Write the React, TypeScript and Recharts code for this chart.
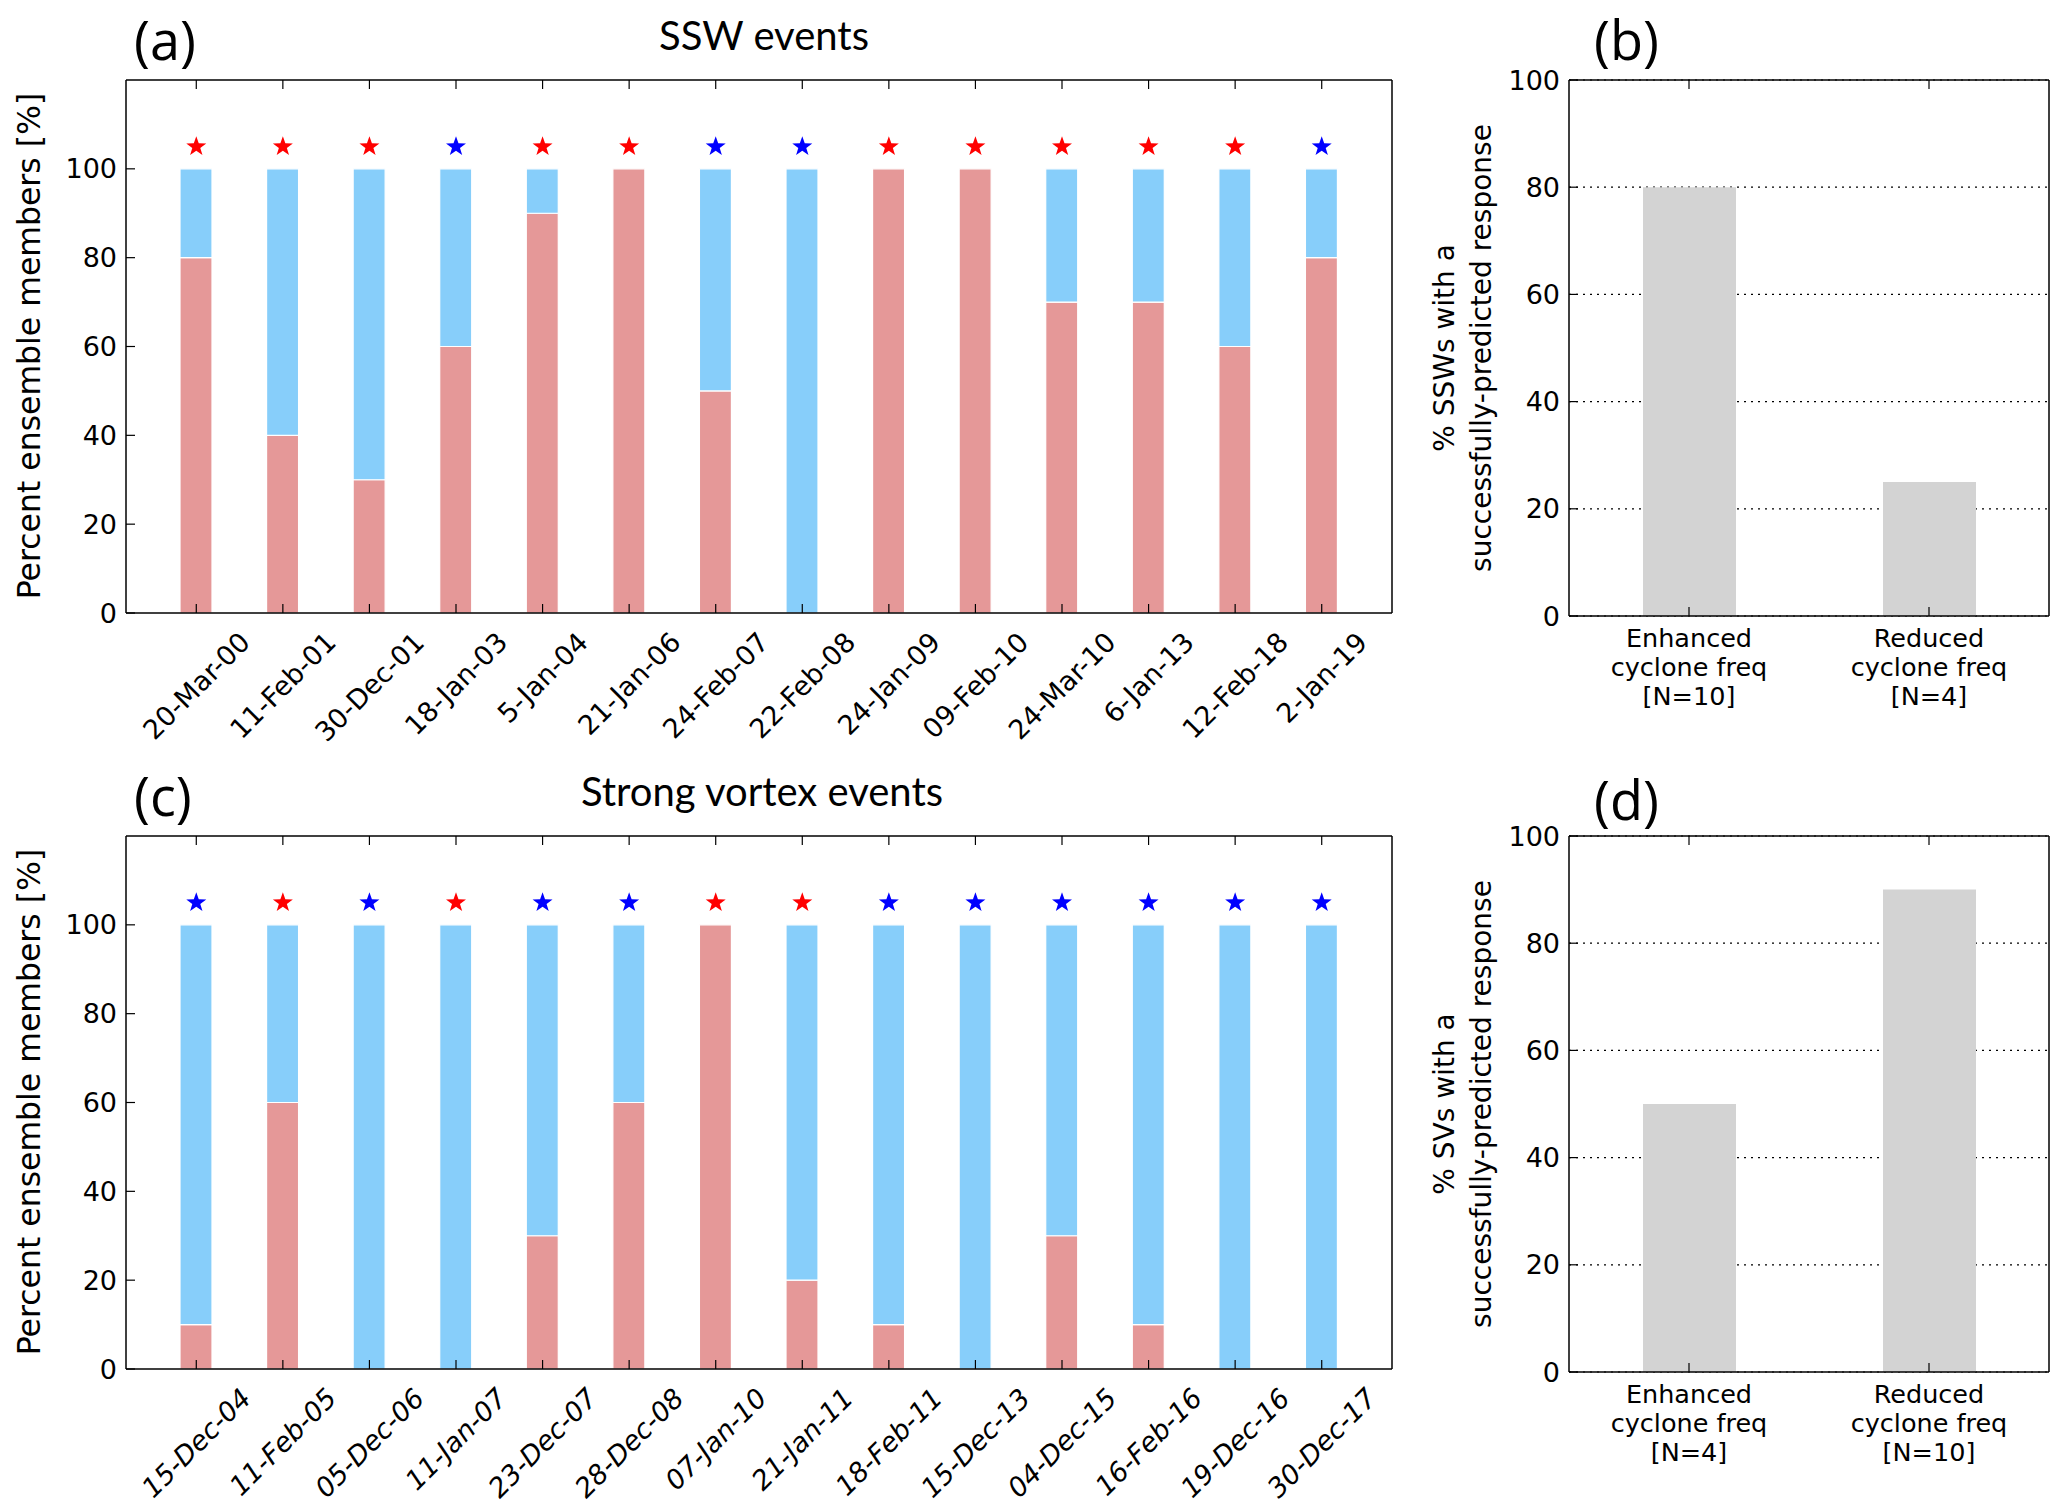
import React from "react";
import { ComposedChart, Bar, Line, XAxis, YAxis, CartesianGrid } from "recharts";

// SSW events (panel a)
const sswDates = [
  "20-Mar-00", "11-Feb-01", "30-Dec-01", "18-Jan-03", "5-Jan-04", "21-Jan-06", "24-Feb-07",
  "22-Feb-08", "24-Jan-09", "09-Feb-10", "24-Mar-10", "6-Jan-13", "12-Feb-18", "2-Jan-19",
];
const sswRed = [80, 40, 30, 60, 90, 100, 50, 0, 100, 100, 70, 70, 60, 80];
const sswBlue = [20, 60, 70, 40, 10, 0, 50, 100, 0, 0, 30, 30, 40, 20];
const sswStars = ["r", "r", "r", "b", "r", "r", "b", "b", "r", "r", "r", "r", "r", "b"];

// Strong vortex events (panel c)
const svDates = [
  "15-Dec-04", "11-Feb-05", "05-Dec-06", "11-Jan-07", "23-Dec-07", "28-Dec-08", "07-Jan-10",
  "21-Jan-11", "18-Feb-11", "15-Dec-13", "04-Dec-15", "16-Feb-16", "19-Dec-16", "30-Dec-17",
];
const svRed = [10, 60, 0, 0, 30, 60, 100, 20, 10, 0, 30, 10, 0, 0];
const svBlue = [90, 40, 100, 100, 70, 40, 0, 80, 90, 100, 70, 90, 100, 100];
const svStars = ["b", "r", "b", "r", "b", "b", "r", "r", "b", "b", "b", "b", "b", "b"];

// success panels (b, d)
const sswGroups = ["Enhanced|cyclone freq|[N=10]", "Reduced|cyclone freq|[N=4]"];
const sswSuccess = [80, 25];
const svGroups = ["Enhanced|cyclone freq|[N=4]", "Reduced|cyclone freq|[N=10]"];
const svSuccess = [50, 90];

const STAR_LEVEL = 105;
const pctTicks = [0, 20, 40, 60, 80, 100];

const FONT = "'DejaVu Sans', 'Noto Sans', sans-serif";
const TITLE_FONT = "Lato, 'Open Sans', sans-serif";
const LETTER_FONT = "'Open Sans', Lato, sans-serif";
const RED = "#E59898";
const BLUE = "#87CEFA";
const GRAY = "#D3D3D3";
const STAR_COLORS: Record<string, string> = { r: "#FF0000", b: "#0000FF" };

let ctx: CanvasRenderingContext2D | null = null;
function textWidth(text: string, font: string) {
  if (!ctx) ctx = document.createElement("canvas").getContext("2d");
  if (!ctx) return text.length * 15;
  ctx.font = font;
  return ctx.measureText(text).width;
}

const Empty = () => <g />;

function Star(props: any) {
  const { cx, cy, payload } = props;
  if (cx == null || cy == null) return <g />;
  const R = 10.5;
  const r = 4.2;
  let d = "";
  for (let i = 0; i < 10; i++) {
    const rad = i % 2 === 0 ? R : r;
    const a = -Math.PI / 2 + (i * Math.PI) / 5;
    d += (i ? "L" : "M") + (cx + rad * Math.cos(a)).toFixed(2) + "," + (cy + rad * Math.sin(a)).toFixed(2);
  }
  return <path d={d + "Z"} fill={STAR_COLORS[payload.star]} />;
}

function DateTick(props: any) {
  const { x, y, payload, italic } = props;
  const fs = 27;
  const w = textWidth(payload.value, `${italic ? "italic " : ""}${fs}px 'DejaVu Sans'`);
  const half = ((w + fs * 0.76) * 0.7071) / 2;
  const cy = y + half;
  return (
    <text
      x={x}
      y={cy}
      transform={`rotate(-45 ${x} ${cy})`}
      textAnchor="middle"
      dominantBaseline="central"
      fontSize={fs}
      fontFamily={FONT}
      fontStyle={italic ? "italic" : "normal"}
      fill="#000"
    >
      {payload.value}
    </text>
  );
}

function GroupTick(props: any) {
  const { x, y, payload } = props;
  const lines = String(payload.value).split("|");
  return (
    <text x={x} y={y} textAnchor="middle" fontSize={25.5} fontFamily={FONT} fill="#000">
      {lines.map((l, i) => (
        <tspan key={i} x={x} dy={i === 0 ? 31 : 29}>
          {l}
        </tspan>
      ))}
    </text>
  );
}

const axisLine = { stroke: "#000", strokeWidth: 1.5 };
const tickLine = { stroke: "#000", strokeWidth: 1.2 };
const yTick = { fontSize: 27, fill: "#000", fontFamily: FONT };

function EventPanel({ top, dates, red, blue, stars, italic }: any) {
  const data = dates.map((d: string, i: number) => ({
    date: d,
    red: red[i],
    blue: blue[i],
    level: STAR_LEVEL,
    star: stars[i],
  }));
  return (
    <div style={{ position: "absolute", left: 0, top, width: 1420, height: 780 }}>
      <ComposedChart width={1420} height={780} data={data} margin={{ top: 79, right: 27, left: 66, bottom: 37 }}>
        <Bar dataKey="red" stackId="s" fill={RED} stroke="#fff" strokeWidth={1.2} barSize={32} isAnimationActive={false} />
        <Bar dataKey="blue" stackId="s" fill={BLUE} stroke="#fff" strokeWidth={1.2} barSize={32} isAnimationActive={false} />
        <Line dataKey="level" stroke="none" dot={<Star />} activeDot={false} isAnimationActive={false} />
        <XAxis
          dataKey="date"
          interval={0}
          padding={{ left: 27, right: 27 }}
          height={130}
          tickSize={-9}
          tickMargin={26}
          axisLine={axisLine}
          tickLine={tickLine}
          tick={<DateTick italic={italic} />}
        />
        <XAxis
          xAxisId="top"
          orientation="top"
          dataKey="date"
          interval={0}
          padding={{ left: 27, right: 27 }}
          height={1}
          tickSize={-9}
          axisLine={axisLine}
          tickLine={tickLine}
          tick={Empty}
        />
        <YAxis
          domain={[0, 120]}
          ticks={pctTicks}
          width={60}
          tickSize={-9}
          tickMargin={18}
          axisLine={axisLine}
          tickLine={tickLine}
          tick={yTick}
        />
        <YAxis
          yAxisId="right"
          orientation="right"
          domain={[0, 120]}
          ticks={pctTicks}
          width={1}
          tickSize={-9}
          axisLine={axisLine}
          tickLine={tickLine}
          tick={Empty}
        />
      </ComposedChart>
    </div>
  );
}

function SuccessPanel({ top, groups, values }: any) {
  const data = groups.map((g: string, i: number) => ({ group: g, value: values[i] }));
  return (
    <div style={{ position: "absolute", left: 1440, top, width: 627, height: 720 }}>
      <ComposedChart width={627} height={720} data={data} margin={{ top: 79, right: 17, left: 39, bottom: 4 }}>
        <CartesianGrid vertical={false} stroke="#000" strokeWidth={1.2} strokeDasharray="2 5" />
        <Bar dataKey="value" fill={GRAY} barSize={93} isAnimationActive={false} />
        <XAxis
          dataKey="group"
          interval={0}
          height={100}
          tickSize={-9}
          tickMargin={9}
          axisLine={axisLine}
          tickLine={tickLine}
          tick={<GroupTick />}
        />
        <XAxis
          xAxisId="top"
          orientation="top"
          dataKey="group"
          interval={0}
          height={1}
          tickSize={-9}
          axisLine={axisLine}
          tickLine={tickLine}
          tick={Empty}
        />
        <YAxis
          domain={[0, 100]}
          ticks={pctTicks}
          width={90}
          tickSize={-9}
          tickMargin={18}
          axisLine={axisLine}
          tickLine={tickLine}
          tick={yTick}
        />
        <YAxis
          yAxisId="right"
          orientation="right"
          domain={[0, 100]}
          ticks={pctTicks}
          width={1}
          tickSize={-9}
          axisLine={axisLine}
          tickLine={tickLine}
          tick={Empty}
        />
      </ComposedChart>
    </div>
  );
}

export default function App() {
  const off = 756;
  return (
    <div style={{ position: "absolute", left: 0, top: 0, width: 2067, height: 1512, background: "#fff" }}>
      <svg width={2067} height={1512} style={{ position: "absolute", left: 0, top: 0 }}>
        <g fill="#000">
          <text x={134} y={60} fontSize={54} fontFamily={LETTER_FONT}>(a)</text>
          <text x={764} y={50} fontSize={40} fontFamily={TITLE_FONT} textAnchor="middle">SSW events</text>
          <text x={1594} y={60} fontSize={54} fontFamily={LETTER_FONT}>(b)</text>
          <text x={134} y={60 + off} fontSize={54} fontFamily={LETTER_FONT}>(c)</text>
          <text x={762} y={50 + off} fontSize={40} fontFamily={TITLE_FONT} textAnchor="middle">Strong vortex events</text>
          <text x={1594} y={64 + off} fontSize={54} fontFamily={LETTER_FONT}>(d)</text>

          <text x={29} y={346} fontSize={31.5} fontFamily={FONT} textAnchor="middle" dominantBaseline="central" transform="rotate(-90 29 346)">
            Percent ensemble members [%]
          </text>
          <text x={29} y={346 + off} fontSize={31.5} fontFamily={FONT} textAnchor="middle" dominantBaseline="central" transform={`rotate(-90 29 ${346 + off})`}>
            Percent ensemble members [%]
          </text>

          <text x={1444} y={348} fontSize={28} fontFamily={FONT} textAnchor="middle" dominantBaseline="central" transform="rotate(-90 1444 348)">
            % SSWs with a
          </text>
          <text x={1481} y={348} fontSize={28} fontFamily={FONT} textAnchor="middle" dominantBaseline="central" transform="rotate(-90 1481 348)">
            successfully-predicted response
          </text>
          <text x={1444} y={348 + off} fontSize={28} fontFamily={FONT} textAnchor="middle" dominantBaseline="central" transform={`rotate(-90 1444 ${348 + off})`}>
            % SVs with a
          </text>
          <text x={1481} y={348 + off} fontSize={28} fontFamily={FONT} textAnchor="middle" dominantBaseline="central" transform={`rotate(-90 1481 ${348 + off})`}>
            successfully-predicted response
          </text>
        </g>
      </svg>
      <EventPanel top={0} dates={sswDates} red={sswRed} blue={sswBlue} stars={sswStars} italic={false} />
      <EventPanel top={off} dates={svDates} red={svRed} blue={svBlue} stars={svStars} italic={true} />
      <SuccessPanel top={0} groups={sswGroups} values={sswSuccess} />
      <SuccessPanel top={off} groups={svGroups} values={svSuccess} />
    </div>
  );
}
